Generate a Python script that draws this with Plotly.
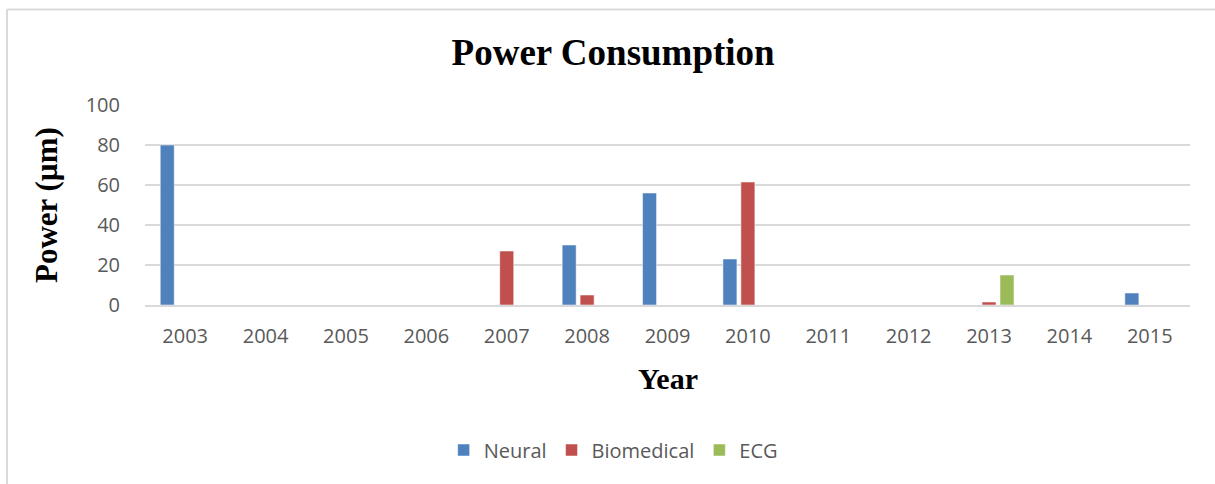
import plotly.graph_objects as go

# Data
years = ["2003", "2004", "2005", "2006", "2007", "2008", "2009",
         "2010", "2011", "2012", "2013", "2014", "2015"]
neural = [80, 0, 0, 0, 0, 30, 56, 23, 0, 0, 0, 0, 6]
biomedical = [0, 0, 0, 0, 27, 5, 0, 61.5, 0, 0, 1.5, 0, 0]
ecg = [0, 0, 0, 0, 0, 0, 0, 0, 0, 0, 15, 0, 0]

series = [
    ("Neural", neural, "#4f81bd"),
    ("Biomedical", biomedical, "#c0504d"),
    ("ECG", ecg, "#9bbb59"),
]

fig = go.Figure()
for name, vals, color in series:
    fig.add_trace(
        go.Bar(
            x=years,
            y=vals,
            name=name,
            marker=dict(color=color, line=dict(color="rgba(255,255,255,0.5)", width=1)),
        )
    )

serif = "Liberation Serif, Times New Roman, serif"
sans = "Open Sans, sans-serif"

fig.update_layout(
    width=1215,
    height=484,
    margin=dict(l=145, r=25, t=105, b=179),
    paper_bgcolor="white",
    plot_bgcolor="white",
    barmode="group",
    bargap=0.33,
    bargroupgap=0.22,
    title=dict(
        text="<b>Power Consumption</b>",
        font=dict(family=serif, size=37, color="black"),
        x=0.448,
        xref="paper",
        xanchor="center",
        y=1 - 52 / 484,
        yanchor="middle",
    ),
    font=dict(family=sans, size=20, color="#595959"),
    showlegend=True,
    legend=dict(
        orientation="h",
        x=0.448,
        xanchor="center",
        y=-0.725,
        yanchor="middle",
        font=dict(family=sans, size=20, color="#595959"),
    ),
    xaxis=dict(
        type="category",
        showgrid=False,
        showline=True,
        linecolor="#d9d9d9",
        linewidth=2,
        ticks="",
        ticklabelstandoff=12,
        tickfont=dict(family=sans, size=20, color="#595959"),
    ),
    yaxis=dict(
        range=[0, 100],
        tickvals=[0, 20, 40, 60, 80, 100],
        showgrid=True,
        gridcolor="#d9d9d9",
        gridwidth=1.5,
        zeroline=False,
        showline=False,
        ticks="",
        ticklabelstandoff=24,
        tickfont=dict(family=sans, size=20, color="#595959"),
    ),
    annotations=[
        dict(
            text="<b>Power (µm)</b>",
            x=(46 - 145) / 1045,
            y=0.5,
            xref="paper",
            yref="paper",
            textangle=-90,
            showarrow=False,
            xanchor="center",
            yanchor="middle",
            font=dict(family=serif, size=31, color="black"),
        ),
        dict(
            text="<b>Year</b>",
            x=0.5,
            y=(305 - 378) / 200,
            xref="paper",
            yref="paper",
            showarrow=False,
            xanchor="center",
            yanchor="middle",
            font=dict(family=serif, size=30, color="black"),
        ),
    ],
    shapes=[
        dict(type="line", xref="paper", yref="paper",
             x0=(7 - 145) / 1045, x1=1.2, y0=(305 - 9.5) / 200, y1=(305 - 9.5) / 200,
             line=dict(color="#d9d9d9", width=2)),
        dict(type="line", xref="paper", yref="paper",
             x0=(7 - 145) / 1045, x1=(7 - 145) / 1045, y0=-2, y1=(305 - 9.5) / 200,
             line=dict(color="#d9d9d9", width=2)),
    ],
)

# drop the default 8px page margin so the chart sits at the window origin
fig.write_html(
    "out.html",
    config={"displayModeBar": False},
    post_script="document.body.style.margin='0';document.body.style.overflow='hidden';",
)
